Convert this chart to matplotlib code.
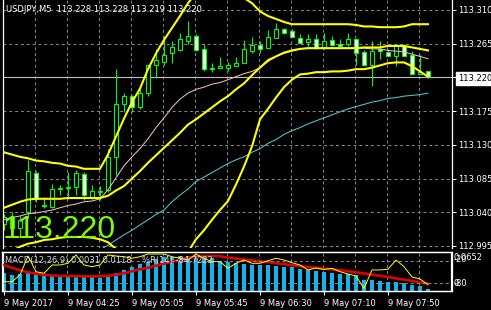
import matplotlib
matplotlib.use("Agg")
import matplotlib.pyplot as plt
import numpy as np

title_text = "USDJPY,M5  113.228 113.228 113.219 113.220"
bid_price = 113.220

# M5 candles, oldest first
opens = [113.024, 113.034, 113.019, 113.041, 113.093, 113.049, 113.047, 113.071, 113.073, 113.074,
         113.091, 113.061, 113.067, 113.070, 113.114, 113.185, 113.195, 113.180, 113.199, 113.236,
         113.240, 113.252, 113.256, 113.268, 113.275, 113.258, 113.231, 113.232, 113.232, 113.235,
         113.239, 113.255, 113.263, 113.259, 113.272, 113.284, 113.282, 113.272, 113.267, 113.271,
         113.260, 113.270, 113.264, 113.264, 113.271, 113.254, 113.237, 113.258, 113.254, 113.248,
         113.262, 113.250, 113.225, 113.228]
highs = [113.038, 113.041, 113.035, 113.110, 113.095, 113.061, 113.078, 113.077, 113.094, 113.097,
         113.094, 113.077, 113.075, 113.124, 113.231, 113.199, 113.197, 113.205, 113.237, 113.258,
         113.275, 113.268, 113.279, 113.295, 113.278, 113.264, 113.239, 113.247, 113.240, 113.247,
         113.270, 113.274, 113.268, 113.283, 113.292, 113.286, 113.284, 113.278, 113.278, 113.278,
         113.279, 113.275, 113.271, 113.279, 113.272, 113.256, 113.268, 113.268, 113.258, 113.264,
         113.264, 113.255, 113.250, 113.228]
lows = [113.016, 113.011, 113.007, 113.033, 113.054, 113.046, 113.046, 113.063, 113.058, 113.063,
        113.057, 113.058, 113.057, 113.067, 113.090, 113.174, 113.174, 113.178, 113.195, 113.219,
        113.236, 113.239, 113.255, 113.264, 113.255, 113.229, 113.227, 113.232, 113.228, 113.235,
        113.239, 113.252, 113.252, 113.259, 113.272, 113.278, 113.274, 113.266, 113.262, 113.258,
        113.258, 113.262, 113.260, 113.262, 113.237, 113.235, 113.208, 113.245, 113.248, 113.235,
        113.248, 113.224, 113.224, 113.219]
closes = [113.034, 113.019, 113.030, 113.095, 113.058, 113.050, 113.071, 113.073, 113.074, 113.093,
          113.063, 113.069, 113.069, 113.114, 113.185, 113.195, 113.180, 113.199, 113.236, 113.243,
          113.250, 113.260, 113.271, 113.275, 113.256, 113.231, 113.233, 113.235, 113.237, 113.239,
          113.258, 113.263, 113.258, 113.274, 113.284, 113.279, 113.274, 113.266, 113.271, 113.259,
          113.268, 113.263, 113.262, 113.271, 113.252, 113.236, 113.255, 113.255, 113.248, 113.262,
          113.248, 113.225, 113.227, 113.220]

# Bollinger bands (yellow)
bb_upper = [113.120, 113.117, 113.114, 113.112, 113.109, 113.108, 113.106, 113.105, 113.102, 113.101,
            113.098, 113.098, 113.098, 113.117, 113.141, 113.165, 113.187, 113.205, 113.231, 113.252,
            113.270, 113.286, 113.302, 113.319, 113.333, 113.341, 113.343, 113.342, 113.338, 113.333,
            113.326, 113.319, 113.308, 113.302, 113.298, 113.294, 113.291, 113.291, 113.291, 113.291,
            113.291, 113.291, 113.291, 113.291, 113.290, 113.288, 113.288, 113.287, 113.287, 113.287,
            113.288, 113.291, 113.291, 113.291]
bb_middle = [113.046, 113.050, 113.054, 113.057, 113.058, 113.058, 113.058, 113.058, 113.059, 113.059,
             113.059, 113.059, 113.059, 113.062, 113.069, 113.075, 113.085, 113.095, 113.106, 113.116,
             113.126, 113.136, 113.146, 113.157, 113.164, 113.172, 113.180, 113.188, 113.195, 113.204,
             113.212, 113.223, 113.233, 113.243, 113.248, 113.253, 113.256, 113.258, 113.259, 113.259,
             113.259, 113.259, 113.259, 113.259, 113.259, 113.260, 113.260, 113.260, 113.262, 113.262,
             113.262, 113.260, 113.258, 113.256]
bb_lower = [112.983, 112.988, 112.994, 112.998, 113.000, 113.003, 113.004, 113.006, 113.007, 113.007,
            113.007, 113.006, 113.004, 113.000, 112.991, 112.979, 112.967, 112.953, 112.941, 112.933,
            112.933, 112.944, 112.963, 112.987, 113.004, 113.016, 113.030, 113.043, 113.055, 113.077,
            113.101, 113.128, 113.164, 113.178, 113.193, 113.207, 113.217, 113.224, 113.225, 113.227,
            113.227, 113.228, 113.228, 113.229, 113.231, 113.231, 113.233, 113.236, 113.239, 113.240,
            113.240, 113.235, 113.228, 113.221]
# moving averages
ma_pink = [113.030, 113.033, 113.035, 113.038, 113.039, 113.041, 113.043, 113.046, 113.049, 113.051,
           113.054, 113.055, 113.058, 113.070, 113.086, 113.102, 113.114, 113.125, 113.138, 113.153,
           113.166, 113.180, 113.191, 113.199, 113.204, 113.207, 113.211, 113.213, 113.217, 113.221,
           113.225, 113.228, 113.233, 113.241, 113.248, 113.252, 113.255, 113.258, 113.259, 113.259,
           113.259, 113.259, 113.259, 113.259, 113.259, 113.259, 113.258, 113.258, 113.256, 113.255,
           113.254, 113.251, 113.248, 113.245]
ma_cyan = [np.nan] * 10 + [
           112.979, 112.984, 112.990, 112.996, 113.003, 113.010, 113.016, 113.023, 113.030, 113.037,
           113.043, 113.054, 113.063, 113.071, 113.081, 113.087, 113.093, 113.099, 113.105, 113.110,
           113.114, 113.120, 113.125, 113.132, 113.137, 113.144, 113.149, 113.153, 113.158, 113.162,
           113.166, 113.170, 113.174, 113.178, 113.181, 113.184, 113.187, 113.189, 113.192, 113.193,
           113.195, 113.196, 113.197, 113.199]

# MACD(12,26,9) and %R(14)
macd_hist = [0.0293, 0.0254, 0.0283, 0.0327, 0.0283, 0.0254, 0.0242, 0.0242, 0.0226, 0.0226,
             0.0226, 0.0226, 0.0208, 0.0237, 0.0300, 0.0351, 0.0395, 0.0436, 0.0479, 0.0520,
             0.0554, 0.0564, 0.0576, 0.0581, 0.0576, 0.0554, 0.0537, 0.0500, 0.0475, 0.0463,
             0.0440, 0.0424, 0.0424, 0.0424, 0.0415, 0.0395, 0.0385, 0.0367, 0.0351, 0.0327,
             0.0310, 0.0293, 0.0283, 0.0271, 0.0254, 0.0181, 0.0169, 0.0153, 0.0141, 0.0141,
             0.0124, 0.0085, 0.0068, 0.0031]
macd_signal = [0.0424, 0.0381, 0.0339, 0.0305, 0.0279, 0.0263, 0.0251, 0.0244, 0.0241, 0.0237,
               0.0237, 0.0236, 0.0237, 0.0246, 0.0263, 0.0288, 0.0322, 0.0356, 0.0381, 0.0415,
               0.0449, 0.0483, 0.0516, 0.0546, 0.0563, 0.0571, 0.0576, 0.0573, 0.0550, 0.0534,
               0.0516, 0.0503, 0.0488, 0.0475, 0.0457, 0.0440, 0.0424, 0.0406, 0.0393, 0.0379,
               0.0366, 0.0353, 0.0339, 0.0322, 0.0305, 0.0285, 0.0265, 0.0246, 0.0226, 0.0204,
               0.0181, 0.0159, 0.0135, 0.0118]
wpr = [-76.5, -76.5, -58.2, -6.4, -49.2, -53.5, -30.9, -30.9, -26.3, -3.6,
       -30.9, -35.5, -30.9, -3.6, -6.4, -8.3, -12.6, -8.3, -0.9, -1.0,
       -0.9, -8.3, -12.6, -17.3, -1.0, -12.6, -21.9, -21.9, -39.9, -26.3,
       -17.3, -26.3, -26.3, -19.2, -12.6, -17.3, -24.6, -30.9, -44.5, -39.1,
       -43.2, -39.9, -49.2, -55.5, -60.9, -95.0, -44.5, -44.5, -42.6, -17.3,
       -35.5, -63.6, -69.1, -84.7222]

time_ticks = [0, 8, 16, 24, 32, 40, 48]
time_labels = ["9 May 2017", "9 May 04:25", "9 May 05:05", "9 May 05:45",
               "9 May 06:30", "9 May 07:10", "9 May 07:50"]
price_ticks = [113.310, 113.265, 113.220, 113.175, 113.130, 113.085, 113.040, 112.995]
grid_bars = list(range(4, 54, 4))

GREEN = "#00ff00"
YELLOW = "#ffff00"
GRID = "#8a8a8a"
W, H = 491, 310


def px_box(x0, y0, x1, y1):
    return [x0 / W, 1 - y1 / H, (x1 - x0) / W, (y1 - y0) / H]


fig = plt.figure(figsize=(W / 100, H / 100), dpi=100, facecolor="black")
ax = fig.add_axes(px_box(2.5, 0, 451.5, 248))
ax_sub = fig.add_axes(px_box(2.5, 251.5, 451.5, 290.5))

x = np.arange(len(opens))
o = np.array(opens)
hi = np.array(highs)
lo = np.array(lows)
c = np.array(closes)
bull = c >= o

# main chart
ax.set_facecolor("black")
for g in grid_bars:
    ax.axvline(g - 0.125, color=GRID, lw=0.7, ls=(0, (3, 3)), zorder=1)
for p in price_ticks:
    ax.axhline(p, color=GRID, lw=0.7, ls=(0, (3, 3)), zorder=1)
ax.axhline(bid_price, color="#c0c0c0", lw=0.8, zorder=1.5)

ax.vlines(x, lo, hi, color=GREEN, lw=0.8, zorder=2)
body_lo = np.minimum(o, c)
body_h = np.maximum(np.abs(c - o), 0.0003)
ax.bar(x[bull], body_h[bull], bottom=body_lo[bull], width=0.58,
       color="black", edgecolor=GREEN, linewidth=0.8, zorder=2.5)
ax.bar(x[~bull], body_h[~bull], bottom=body_lo[~bull], width=0.58,
       color="#f4fff4", edgecolor=GREEN, linewidth=0.8, zorder=2.5)

ax.plot(x, ma_cyan, color="#4fc8d4", lw=0.75, zorder=3)
ax.plot(x, ma_pink, color="#f4b8c4", lw=0.75, zorder=3)
for band in (bb_upper, bb_middle, bb_lower):
    ax.plot(x, band, color=YELLOW, lw=1.5, zorder=3.5)

ax.set_xlim(-0.1875, 55.9375)
ax.set_ylim(112.9923, 113.3233)
ax.set_xticks([])
ax.yaxis.tick_right()
ax.set_yticks(price_ticks)
ax.set_yticklabels([f"{p:.3f}" for p in price_ticks])
ax.tick_params(axis="y", colors="white", labelsize=6, length=3, width=0.7, pad=1.5)
for lab in ax.get_yticklabels():
    lab.set_fontfamily("DejaVu Sans")
    if lab.get_text() == f"{bid_price:.3f}":
        lab.set_color("black")
        lab.set_bbox(dict(boxstyle="square,pad=0.25", fc="white", ec="white"))
for side in ("top", "bottom"):
    ax.spines[side].set_visible(False)
for side in ("left", "right"):
    ax.spines[side].set_color("white")
    ax.spines[side].set_linewidth(0.9)

# indicator window
ax_sub.set_facecolor("black")
for g in grid_bars:
    ax_sub.axvline(g - 0.125, color=GRID, lw=0.7, ls=(0, (3, 3)), zorder=1)
ax_sub.bar(x, macd_hist, width=0.6, color="#12b4ef", zorder=2)
ax_sub.plot(x, macd_signal, color="#e00000", lw=1.9, zorder=3)
ax_sub.set_xlim(ax.get_xlim())
ax_sub.set_ylim(0, 0.0652)
ax_sub.set_yticks([])

ax_wpr = ax_sub.twinx()
ax_wpr.set_ylim(-100.5, 5.9)
for level in (-20, -80):
    ax_wpr.axhline(level, color=GRID, lw=0.7, ls=(0, (3, 3)), zorder=1)
ax_wpr.plot(x, wpr, color=YELLOW, lw=0.7, zorder=4)
ax_wpr.set_yticks([])
for a in (ax_sub, ax_wpr):
    for side in a.spines:
        a.spines[side].set_color("white")
        a.spines[side].set_linewidth(0.9)

ax_sub.set_xticks(time_ticks)
ax_sub.set_xticklabels(time_labels, ha="left")
ax_sub.tick_params(axis="x", colors="white", labelsize=6, length=3, width=0.7, pad=3)
for lab in ax_sub.get_xticklabels():
    lab.set_fontfamily("DejaVu Sans")

# texts
txt = dict(color="white", fontsize=6, family="DejaVu Sans", va="center", ha="left")
fig.text(6 / W, 1 - 10 / H, title_text, **txt)
fig.text(5 / W, 1 - 261 / H, "MACD(12,26,9) 0.0031 0.0118", **{**txt, "color": "#d8d8d8"})
fig.text(142 / W, 1 - 261 / H, "%R(14) -84.7222", **{**txt, "color": "#d8d8d8"})
fig.text(454 / W, 1 - 258 / H, "0.0652", **txt)
fig.text(454 / W, 1 - 259 / H, "-20", **txt)
fig.text(454 / W, 1 - 284 / H, "0", **txt)
fig.text(454 / W, 1 - 284 / H, "-80", **txt)
fig.text(3 / W, 1 - 238 / H, f"{bid_price:.3f}", color="#7cfc00", fontsize=23,
         family="Liberation Sans", va="baseline", ha="left")

fig.savefig("out.png", dpi=100, facecolor="black")
